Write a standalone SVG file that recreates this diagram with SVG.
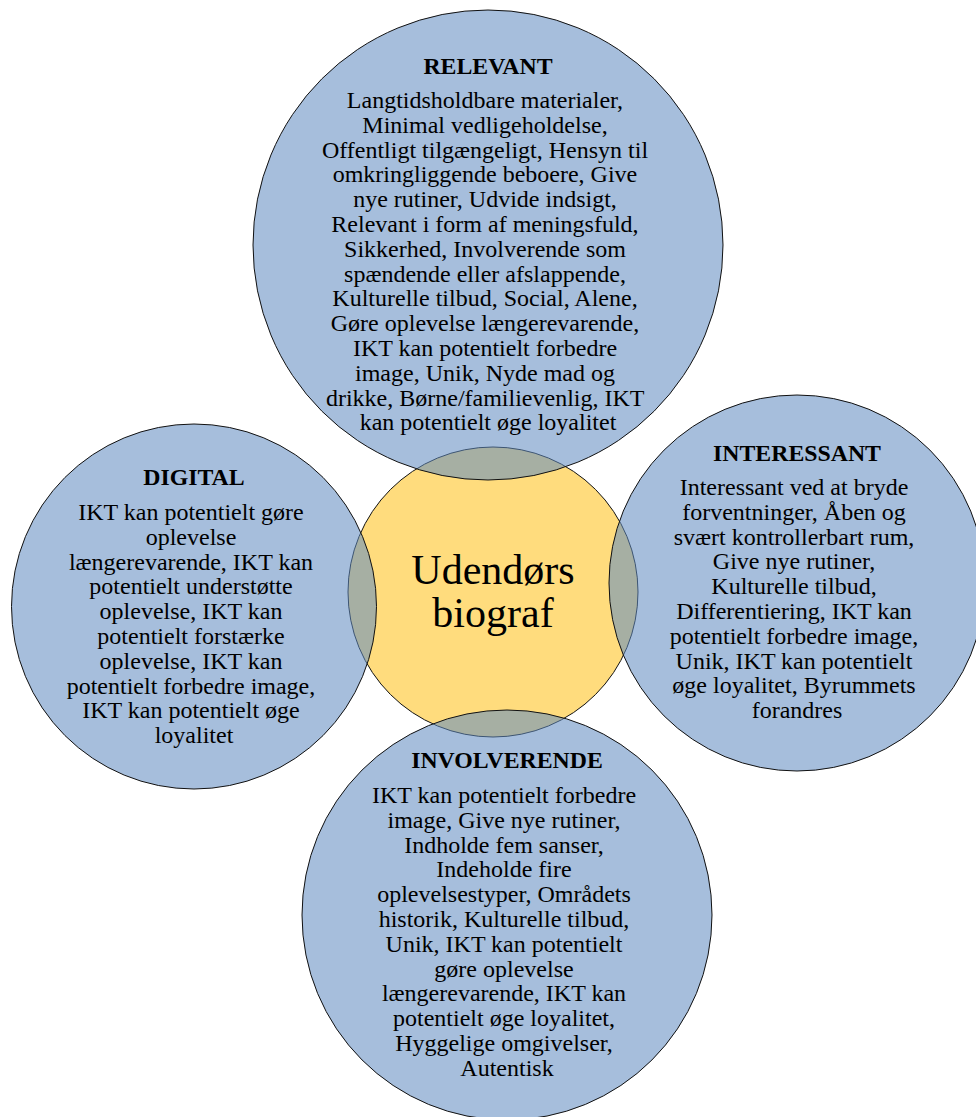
<svg xmlns="http://www.w3.org/2000/svg" width="976" height="1117" viewBox="0 0 976 1117">
  <style>
    .bg { fill: #ffffff; }
    .core { fill: #FFDC7D; stroke: #111; stroke-width: 1; }
    .petal { fill: #608BC1; fill-opacity: 0.56; stroke: #111; stroke-width: 1; }
    .title { font-family: "Liberation Serif", "Times New Roman", serif; font-size: 23.8px; font-weight: bold; fill: #000; text-anchor: middle; }
    .body { font-family: "Liberation Serif", "Times New Roman", serif; font-size: 24px; fill: #000; text-anchor: middle; }
    .center { font-family: "Liberation Serif", "Times New Roman", serif; font-size: 42px; fill: #000; text-anchor: middle; }
  </style>
  <rect class="bg" x="0" y="0" width="976" height="1117"/>

  <!-- no connectors: the petals overlap the core directly -->
  <g id="connectors"></g>

  <!-- central node -->
  <g id="udendors-biograf">
    <circle class="core" cx="493" cy="592" r="145"/>
    <text class="center" x="493" y="584">Udendørs</text>
    <text class="center" x="493" y="627">biograf</text>
  </g>

  <!-- top petal -->
  <g id="relevant">
    <circle class="petal" cx="488" cy="245" r="235"/>
    <text class="title" x="488" y="74">RELEVANT</text>
    <text class="body" x="488">
      <tspan x="488" y="108">Langtidsholdbare materialer,</tspan>
      <tspan x="488" y="132.8">Minimal vedligeholdelse,</tspan>
      <tspan x="488" y="157.6">Offentligt tilgængeligt, Hensyn til</tspan>
      <tspan x="488" y="182.4">omkringliggende beboere, Give</tspan>
      <tspan x="488" y="207.2">nye rutiner, Udvide indsigt,</tspan>
      <tspan x="488" y="232">Relevant i form af meningsfuld,</tspan>
      <tspan x="488" y="256.8">Sikkerhed, Involverende som</tspan>
      <tspan x="488" y="281.6">spændende eller afslappende,</tspan>
      <tspan x="488" y="306.4">Kulturelle tilbud, Social, Alene,</tspan>
      <tspan x="488" y="331.2">Gøre oplevelse længerevarende,</tspan>
      <tspan x="488" y="356">IKT kan potentielt forbedre</tspan>
      <tspan x="488" y="380.8">image, Unik, Nyde mad og</tspan>
      <tspan x="488" y="405.6">drikke, Børne/familievenlig, IKT</tspan>
      <tspan x="488" y="430.4">kan potentielt øge loyalitet</tspan>
    </text>
  </g>

  <!-- left petal -->
  <g id="digital">
    <circle class="petal" cx="194" cy="606.5" r="182.5"/>
    <text class="title" x="194" y="485">DIGITAL</text>
    <text class="body" x="194">
      <tspan x="194" y="520">IKT kan potentielt gøre</tspan>
      <tspan x="194" y="544.8">oplevelse</tspan>
      <tspan x="194" y="569.6">længerevarende, IKT kan</tspan>
      <tspan x="194" y="594.4">potentielt understøtte</tspan>
      <tspan x="194" y="619.2">oplevelse, IKT kan</tspan>
      <tspan x="194" y="644">potentielt forstærke</tspan>
      <tspan x="194" y="668.8">oplevelse, IKT kan</tspan>
      <tspan x="194" y="693.6">potentielt forbedre image,</tspan>
      <tspan x="194" y="718.4">IKT kan potentielt øge</tspan>
      <tspan x="194" y="743.2">loyalitet</tspan>
    </text>
  </g>

  <!-- right petal -->
  <g id="interessant">
    <circle class="petal" cx="797" cy="583" r="188"/>
    <text class="title" x="797" y="461">INTERESSANT</text>
    <text class="body" x="797">
      <tspan x="797" y="495">Interessant ved at bryde</tspan>
      <tspan x="797" y="519.8">forventninger, Åben og</tspan>
      <tspan x="797" y="544.6">svært kontrollerbart rum,</tspan>
      <tspan x="797" y="569.4">Give nye rutiner,</tspan>
      <tspan x="797" y="594.2">Kulturelle tilbud,</tspan>
      <tspan x="797" y="619">Differentiering, IKT kan</tspan>
      <tspan x="797" y="643.8">potentielt forbedre image,</tspan>
      <tspan x="797" y="668.6">Unik, IKT kan potentielt</tspan>
      <tspan x="797" y="693.4">øge loyalitet, Byrummets</tspan>
      <tspan x="797" y="718.2">forandres</tspan>
    </text>
  </g>

  <!-- bottom petal -->
  <g id="involverende">
    <circle class="petal" cx="507" cy="915" r="205"/>
    <text class="title" x="507" y="768">INVOLVERENDE</text>
    <text class="body" x="507">
      <tspan x="507" y="803">IKT kan potentielt forbedre</tspan>
      <tspan x="507" y="827.8">image, Give nye rutiner,</tspan>
      <tspan x="507" y="852.6">Indholde fem sanser,</tspan>
      <tspan x="507" y="877.4">Indeholde fire</tspan>
      <tspan x="507" y="902.2">oplevelsestyper, Områdets</tspan>
      <tspan x="507" y="927">historik, Kulturelle tilbud,</tspan>
      <tspan x="507" y="951.8">Unik, IKT kan potentielt</tspan>
      <tspan x="507" y="976.6">gøre oplevelse</tspan>
      <tspan x="507" y="1001.4">længerevarende, IKT kan</tspan>
      <tspan x="507" y="1026.2">potentielt øge loyalitet,</tspan>
      <tspan x="507" y="1051">Hyggelige omgivelser,</tspan>
      <tspan x="507" y="1075.8">Autentisk</tspan>
    </text>
  </g>
</svg>
